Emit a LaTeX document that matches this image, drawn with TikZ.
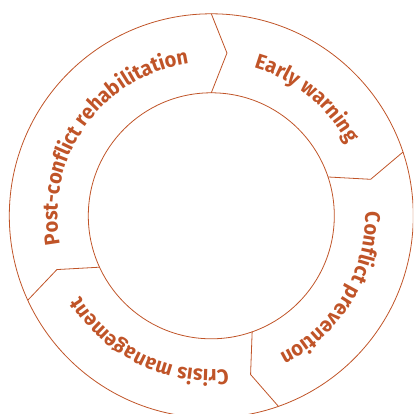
\documentclass[tikz,border=0pt]{standalone}
\usepackage{fontspec}
\newfontfamily\segfont[FakeStretch=0.95]{Fira Sans}
\usepackage{tikz}
\usetikzlibrary{decorations.text}
\definecolor{rust}{RGB}{192,84,40}

\begin{document}
\begin{tikzpicture}
    [   x = 1pt
    ,   y = 1pt
    ,   ring/.style =
        {   draw = rust
        ,   line width = 0.8pt
        ,   line join = miter
        }
    ,   segtext/.style =
        {   decoration =
            {   text along path
            ,   text align = center
            ,   text color = rust
            ,   text = {|\segfont\bfseries\fontsize{21}{21}\selectfont|#1}
            }
        ,   decorate
        }
    ]
    \useasboundingbox (-211.3,-198.2) rectangle (201.7,215.8);
    \clip (-211.3,-198.2) rectangle (201.7,215.8);

    % rings
    \draw[ring] (0,0) circle (202);
    \draw[ring] (0,0) circle (123);

    % chevron dividers between the phases
    \foreach\a in {90,18.4,-70.6,-155.3}
    {   \draw[ring] (\a:202) -- (\a-5.5:163.5) -- (\a:123);
    }

    % phase names, clockwise
    \foreach\c/\t in
        {   50/Early warning
        ,   -32/Conflict prevention
        ,   -117/Crisis management
        ,   143.6/Post-conflict rehabilitation
        }
    {   \path[segtext=\t] (\c+70:154) arc[start angle=\c+70, end angle=\c-70, radius=154];
    }

\end{tikzpicture}
\end{document}
